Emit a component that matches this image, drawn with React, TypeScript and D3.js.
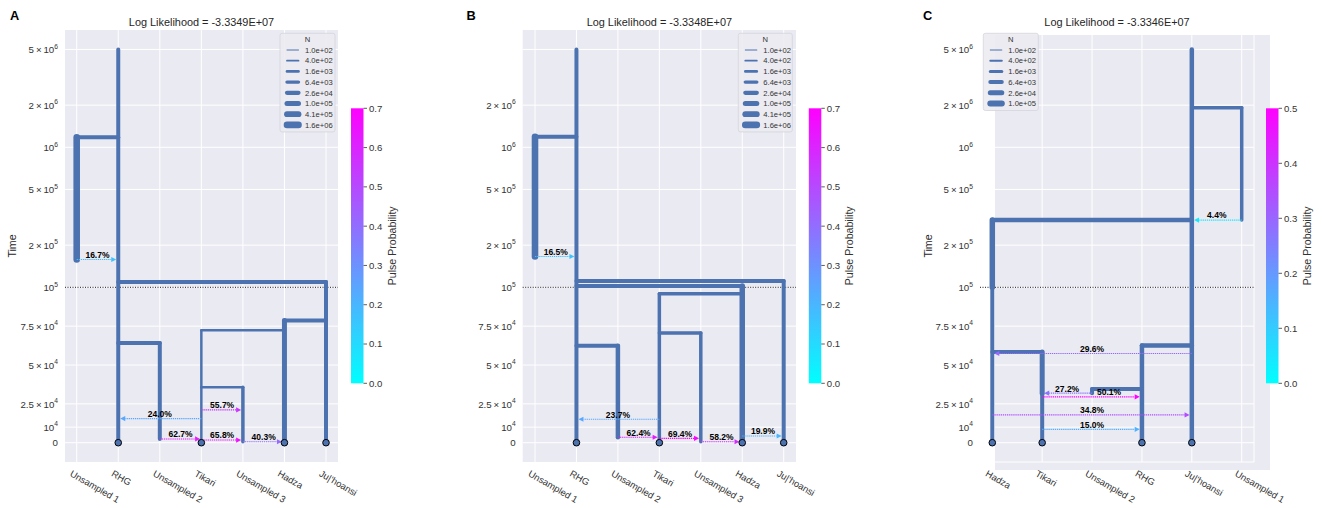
import React from "react";
import * as d3 from "d3";

type Epoch = { deme: string; start: number; end: number; N: number };
type Anc = { child: string; parent: string; time: number };
type Pulse = { source: string; dest: string; time: number; p: number };

// ---------- shared ----------
const yTickValues = [5e6, 2e6, 1e6, 5e5, 2e5, 1e5, 7.5e4, 5e4, 2.5e4, 1e4, 0];
const yTickLabels = ["5×10^6", "2×10^6", "10^6", "5×10^5", "2×10^5", "10^5", "7.5×10^4", "5×10^4", "2.5×10^4", "10^4", "0"];
const yTickLabelsB = ["", "2×10^6", "10^6", "5×10^5", "2×10^5", "10^5", "7.5×10^4", "5×10^4", "2.5×10^4", "10^4", "0"];
const legendLabels = ["1.0e+02", "4.0e+02", "1.6e+03", "6.4e+03", "2.6e+04", "1.0e+05", "4.1e+05", "1.6e+06"];
const legendValues = [100, 400, 1600, 6400, 25600, 102400, 409600, 1638400];

// ---------- panel A ----------
const titleA = "Log Likelihood = -3.3349E+07";
const demesA = ["Unsampled 1", "RHG", "Unsampled 2", "Tikari", "Unsampled 3", "Hadza", "Ju|'hoansi"];
const epochsA: Epoch[] = [
  { deme: "RHG", start: 5e6, end: 0, N: 1.8e4 },
  { deme: "Unsampled 1", start: 1.18e6, end: 1.58e5, N: 1.6e6 },
  { deme: "Ju|'hoansi", start: 1.09e5, end: 0, N: 1.8e4 },
  { deme: "Hadza", start: 7.87e4, end: 0, N: 1.0e5 },
  { deme: "Tikari", start: 7.23e4, end: 0, N: 1.35e3 },
  { deme: "Unsampled 2", start: 6.41e4, end: 2.4e3, N: 1.8e4 },
  { deme: "Unsampled 3", start: 3.57e4, end: 0.6e3, N: 7.6e3 },
];
const ancestorsA: Anc[] = [
  { child: "Unsampled 1", parent: "RHG", time: 1.18e6 },
  { child: "Ju|'hoansi", parent: "RHG", time: 1.09e5 },
  { child: "Hadza", parent: "Ju|'hoansi", time: 7.87e4 },
  { child: "Tikari", parent: "Hadza", time: 7.23e4 },
  { child: "Unsampled 2", parent: "RHG", time: 6.41e4 },
  { child: "Unsampled 3", parent: "Tikari", time: 3.57e4 },
];
const pulsesA: Pulse[] = [
  { source: "Unsampled 1", dest: "RHG", time: 1.58e5, p: 0.167 },
  { source: "Tikari", dest: "RHG", time: 1.55e4, p: 0.24 },
  { source: "Tikari", dest: "Unsampled 3", time: 2.11e4, p: 0.557 },
  { source: "Unsampled 2", dest: "Tikari", time: 2.4e3, p: 0.627 },
  { source: "Tikari", dest: "Unsampled 3", time: 1.7e3, p: 0.658 },
  { source: "Unsampled 3", dest: "Hadza", time: 0.6e3, p: 0.403 },
];
const sampledA = ["RHG", "Tikari", "Hadza", "Ju|'hoansi"];
const cbarTicksA = [0, 0.1, 0.2, 0.3, 0.4, 0.5, 0.6, 0.7];

// ---------- panel B ----------
const titleB = "Log Likelihood = -3.3348E+07";
const demesB = ["Unsampled 1", "RHG", "Unsampled 2", "Tikari", "Unsampled 3", "Hadza", "Ju|'hoansi"];
const epochsB: Epoch[] = [
  { deme: "RHG", start: 5e6, end: 0, N: 1.8e4 },
  { deme: "Unsampled 1", start: 1.19e6, end: 1.66e5, N: 1.6e6 },
  { deme: "Ju|'hoansi", start: 1.11e5, end: 0, N: 1.8e4 },
  { deme: "Hadza", start: 1.02e5, end: 0, N: 2.4e5 },
  { deme: "Tikari", start: 9.59e4, end: 0, N: 7.6e3 },
  { deme: "Unsampled 3", start: 7.06e4, end: 0.6e3, N: 7.6e3 },
  { deme: "Unsampled 2", start: 6.24e4, end: 3.5e3, N: 4.3e4 },
];
const ancestorsB: Anc[] = [
  { child: "Unsampled 1", parent: "RHG", time: 1.19e6 },
  { child: "Ju|'hoansi", parent: "RHG", time: 1.11e5 },
  { child: "Hadza", parent: "RHG", time: 1.02e5 },
  { child: "Tikari", parent: "Hadza", time: 9.59e4 },
  { child: "Unsampled 3", parent: "Tikari", time: 7.06e4 },
  { child: "Unsampled 2", parent: "RHG", time: 6.24e4 },
];
const pulsesB: Pulse[] = [
  { source: "Unsampled 1", dest: "RHG", time: 1.66e5, p: 0.165 },
  { source: "Tikari", dest: "RHG", time: 1.51e4, p: 0.237 },
  { source: "Unsampled 2", dest: "Tikari", time: 3.5e3, p: 0.624 },
  { source: "Tikari", dest: "Unsampled 3", time: 2.8e3, p: 0.694 },
  { source: "Unsampled 3", dest: "Hadza", time: 0.6e3, p: 0.582 },
  { source: "Hadza", dest: "Ju|'hoansi", time: 4.3e3, p: 0.199 },
];
const sampledB = ["RHG", "Tikari", "Hadza", "Ju|'hoansi"];
const cbarTicksB = [0, 0.1, 0.2, 0.3, 0.4, 0.5, 0.6, 0.7];

// ---------- panel C ----------
const titleC = "Log Likelihood = -3.3346E+07";
const demesC = ["Hadza", "Tikari", "Unsampled 2", "RHG", "Ju|'hoansi", "Unsampled 1"];
const epochsC: Epoch[] = [
  { deme: "Ju|'hoansi", start: 5e6, end: 0, N: 1.28e4 },
  { deme: "Unsampled 1", start: 1.92e6, end: 3.02e5, N: 3.2e3 },
  { deme: "Hadza", start: 3.02e5, end: 1e5, N: 5.1e4 },
  { deme: "Hadza", start: 1e5, end: 0, N: 6.4e3 },
  { deme: "Tikari", start: 5.83e4, end: 3.19e4, N: 2.56e4 },
  { deme: "Tikari", start: 3.19e4, end: 0, N: 6.4e3 },
  { deme: "RHG", start: 6.26e4, end: 0, N: 1.28e4 },
  { deme: "Unsampled 2", start: 3.46e4, end: 3.19e4, N: 6.4e3 },
];
const ancestorsC: Anc[] = [
  { child: "Unsampled 1", parent: "Ju|'hoansi", time: 1.92e6 },
  { child: "Hadza", parent: "Ju|'hoansi", time: 3.02e5 },
  { child: "Tikari", parent: "Hadza", time: 5.83e4 },
  { child: "RHG", parent: "Ju|'hoansi", time: 6.26e4 },
  { child: "Unsampled 2", parent: "RHG", time: 3.46e4 },
];
const pulsesC: Pulse[] = [
  { source: "Unsampled 1", dest: "Ju|'hoansi", time: 3.02e5, p: 0.044 },
  { source: "Ju|'hoansi", dest: "Hadza", time: 5.74e4, p: 0.296 },
  { source: "Unsampled 2", dest: "Tikari", time: 3.19e4, p: 0.272 },
  { source: "Tikari", dest: "RHG", time: 2.95e4, p: 0.501 },
  { source: "Hadza", dest: "Ju|'hoansi", time: 1.79e4, p: 0.348 },
  { source: "Tikari", dest: "RHG", time: 8.6e3, p: 0.15 },
];
const sampledC = ["Hadza", "Tikari", "RHG", "Ju|'hoansi"];
const cbarTicksC = [0, 0.1, 0.2, 0.3, 0.4, 0.5];

// ---------- styling ----------
const FONT = "'Liberation Sans', Arial, Helvetica, sans-serif";
const BLUE = "#4c72b0";
const BG = "#eaeaf2";
const TXT = "#333333";

// piecewise time scale: linear below 1e5, log above
const yLin = d3.scaleLinear().domain([0, 1e5]).range([442.7, 287.3]);
const yLog = d3.scaleLog().domain([1e5, 1e6]).range([287.3, 147.3]);
const yScale = (t: number) => (t <= 1e5 ? yLin(t) : yLog(t));

const cool = (t: number) => {
  const c = Math.max(0, Math.min(1, t));
  return d3.rgb(255 * c, 255 * (1 - c), 255).formatHex();
};

type Layout = {
  id: string;
  letter: string;
  letterX: number;
  bg: { x: number; y: number; w: number; h: number };
  axisLeft: number;
  gridLeft: number;
  gridRight: number;
  gridTop: number;
  gridBottom: number;
  frameLines: boolean;
  x0: number;
  x1: number;
  legendX: number;
  legendW: number;
  cbarX: number;
  timeLabelX: number | null;
  widthSlope: number;
  nudge: Record<number, number>;
};

type PanelData = {
  title: string;
  demes: string[];
  epochs: Epoch[];
  ancestors: Anc[];
  pulses: Pulse[];
  sampled: string[];
  tickLabels: string[];
  cbarTicks: number[];
  legendCount: number;
};

function TickLabel({ x, y, s }: { x: number; y: number; s: string }) {
  if (!s) return null;
  const parts = s.split("^");
  const base = parts[0].replace("×", "\u2009×\u2009");
  return (
    <text x={x} y={y} textAnchor="end" fontSize={9.7} fill={TXT} fontFamily={FONT}>
      {base}
      {parts[1] !== undefined && (
        <tspan fontSize={6.7} dy={-4.5}>
          {parts[1]}
        </tspan>
      )}
    </text>
  );
}

function Panel({ L, D }: { L: Layout; D: PanelData }) {
  const x = d3.scaleLinear().domain([0, D.demes.length - 1]).range([L.x0, L.x1]);
  const xd = (name: string) => x(D.demes.indexOf(name));
  const width = (N: number) => 1 + (Math.log(N / 25) / Math.log(4) - 1) * L.widthSlope;
  const widthAt = (deme: string, t: number) => {
    const eps = D.epochs.filter((e) => e.deme === deme);
    let best = eps[0];
    for (const e of eps) if (t <= e.start + 1 && t >= e.end - 1) best = e;
    return width(best.N);
  };
  const vmax = D.cbarTicks[D.cbarTicks.length - 1];
  const cbTop = 108.3;
  const cbH = 275;
  const cbW = 12.5;
  const gradId = "grad" + L.id;
  const cx = (L.axisLeft + L.gridRight) / 2;

  return (
    <g>
      <rect x={L.bg.x} y={L.bg.y} width={L.bg.w} height={L.bg.h} fill={BG} />
      {yTickValues.map((v, i) => (
        <line key={"hg" + i} x1={L.gridLeft} x2={L.gridRight} y1={yScale(v)} y2={yScale(v)} stroke="#fff" strokeWidth={1} />
      ))}
      {D.demes.map((d, i) => (
        <line key={"vg" + i} x1={x(i)} x2={x(i)} y1={L.gridTop} y2={L.gridBottom} stroke="#fff" strokeWidth={1} />
      ))}
      {L.frameLines && (
        <g>
          <line x1={L.gridRight} x2={L.gridRight} y1={L.gridTop} y2={L.gridBottom} stroke="#fff" strokeWidth={1} />
          <line x1={L.gridLeft} x2={L.gridRight} y1={L.gridBottom} y2={L.gridBottom} stroke="#fff" strokeWidth={1} />
        </g>
      )}
      <line x1={L.axisLeft} x2={L.gridRight} y1={yScale(1e5)} y2={yScale(1e5)} stroke="#000" strokeWidth={0.9} strokeDasharray="1 1.5" />
      {yTickValues.map((v, i) => (
        <TickLabel key={"yt" + i} x={L.axisLeft - 7} y={yScale(v) + 3.7} s={D.tickLabels[i]} />
      ))}
      {D.demes.map((d, i) => (
        <text
          key={"xt" + i}
          transform={`translate(${x(i) - 7.5},${475.5}) rotate(30)`}
          fontSize={9.4}
          fill={TXT}
          fontFamily={FONT}
        >
          {d}
        </text>
      ))}
      {D.ancestors.map((a, i) => (
        <line
          key={"an" + i}
          x1={xd(a.child)}
          x2={xd(a.parent)}
          y1={yScale(a.time)}
          y2={yScale(a.time)}
          stroke={BLUE}
          strokeWidth={Math.min(widthAt(a.child, a.time), widthAt(a.parent, a.time))}
          strokeLinecap="round"
        />
      ))}
      {D.epochs.map((e, i) => (
        <line
          key={"ep" + i}
          x1={xd(e.deme)}
          x2={xd(e.deme)}
          y1={yScale(e.start)}
          y2={yScale(e.end)}
          stroke={BLUE}
          strokeWidth={width(e.N)}
          strokeLinecap="round"
        />
      ))}
      {D.pulses.map((p, i) => {
        const xs = xd(p.source);
        const xdst = xd(p.dest);
        const dir = Math.sign(xdst - xs);
        const tip = xdst - dir * (widthAt(p.dest, p.time) / 2);
        const hl = 5;
        const hw = 2.6;
        const yy = yScale(p.time);
        const col = cool(p.p / vmax);
        const lx = (xs + xdst) / 2 + (L.nudge[i] || 0);
        return (
          <g key={"pu" + i}>
            <line x1={xs} x2={tip - dir * hl} y1={yy} y2={yy} stroke={col} strokeWidth={1.1} strokeDasharray="1.3 0.8" />
            <path d={`M${tip},${yy}L${tip - dir * hl},${yy - hw}L${tip - dir * hl},${yy + hw}Z`} fill={col} />
            <text x={lx} y={yy - 1.6} textAnchor="middle" fontSize={8.5} fontWeight="bold" fill="#000" fontFamily={FONT}>
              {(p.p * 100).toFixed(1) + "%"}
            </text>
          </g>
        );
      })}
      {D.sampled.map((s, i) => (
        <circle key={"sm" + i} cx={xd(s)} cy={yScale(0)} r={3.3} fill={BLUE} stroke="#000" strokeWidth={1} />
      ))}
      <g>
        <rect
          x={L.legendX}
          y={33.3}
          width={L.legendW}
          height={16.7 + (D.legendCount - 1) * 10.7 + 7}
          fill="#ebebf1"
          fillOpacity={0.9}
          stroke="#d4d4dc"
          strokeWidth={0.8}
          rx={2}
        />
        <text x={L.legendX + L.legendW / 2} y={42} textAnchor="middle" fontSize={7.6} fill={TXT} fontFamily={FONT}>
          N
        </text>
        {legendValues.slice(0, D.legendCount).map((v, i) => {
          const ly = 50 + i * 10.7;
          return (
            <g key={"lg" + i}>
              <line x1={L.legendX + 7} x2={L.legendX + 18.5} y1={ly} y2={ly} stroke={BLUE} strokeWidth={width(v)} strokeLinecap="round" />
              <text x={L.legendX + 25} y={ly + 2.7} fontSize={7.6} fill={TXT} fontFamily={FONT}>
                {legendLabels[i]}
              </text>
            </g>
          );
        })}
      </g>
      <defs>
        <linearGradient id={gradId} x1="0" y1="1" x2="0" y2="0">
          <stop offset="0" stopColor="#00ffff" />
          <stop offset="1" stopColor="#ff00ff" />
        </linearGradient>
      </defs>
      <rect x={L.cbarX} y={cbTop} width={cbW} height={cbH} fill={`url(#${gradId})`} />
      {D.cbarTicks.map((v, i) => {
        const ty = cbTop + cbH * (1 - v / vmax);
        return (
          <g key={"cb" + i}>
            <line x1={L.cbarX + cbW} x2={L.cbarX + cbW + 3.5} y1={ty} y2={ty} stroke={TXT} strokeWidth={0.8} />
            <text x={L.cbarX + cbW + 5.5} y={ty + 3.4} fontSize={9.6} fill={TXT} fontFamily={FONT}>
              {v.toFixed(1)}
            </text>
          </g>
        );
      })}
      <text
        transform={`translate(${L.cbarX + cbW + 32},${cbTop + cbH / 2}) rotate(-90)`}
        textAnchor="middle"
        fontSize={10.6}
        fill={TXT}
        fontFamily={FONT}
      >
        Pulse Probability
      </text>
      <text x={cx} y={25.5} textAnchor="middle" fontSize={10.9} fill="#262626" fontFamily={FONT}>
        {D.title}
      </text>
      {L.timeLabelX !== null && (
        <text
          transform={`translate(${L.timeLabelX},${246}) rotate(-90)`}
          textAnchor="middle"
          fontSize={10.6}
          fill="#262626"
          fontFamily={FONT}
        >
          Time
        </text>
      )}
      <text x={L.letterX} y={19.8} fontSize={12.8} fontWeight="bold" fill="#000" fontFamily={FONT}>
        {L.letter}
      </text>
    </g>
  );
}

const layoutA: Layout = {
  id: "A",
  letter: "A",
  letterX: 10,
  bg: { x: 65, y: 30, w: 273, h: 432 },
  axisLeft: 65,
  gridLeft: 65,
  gridRight: 338,
  gridTop: 30,
  gridBottom: 462,
  frameLines: false,
  x0: 76.7,
  x1: 326,
  legendX: 280,
  legendW: 55,
  cbarX: 351,
  timeLabelX: 15.5,
  widthSlope: 0.8,
  nudge: {},
};
const layoutB: Layout = {
  id: "B",
  letter: "B",
  letterX: 466.5,
  bg: { x: 522.7, y: 30, w: 273.3, h: 432 },
  axisLeft: 522.7,
  gridLeft: 522.7,
  gridRight: 796,
  gridTop: 30,
  gridBottom: 462,
  frameLines: false,
  x0: 535,
  x1: 783.7,
  legendX: 738.3,
  legendW: 54,
  cbarX: 808.8,
  timeLabelX: null,
  widthSlope: 0.8,
  nudge: {},
};
const layoutC: Layout = {
  id: "C",
  letter: "C",
  letterX: 923,
  bg: { x: 995, y: 35, w: 275, h: 435 },
  axisLeft: 980,
  gridLeft: 995,
  gridRight: 1254,
  gridTop: 35,
  gridBottom: 462,
  frameLines: true,
  x0: 992.3,
  x1: 1241.7,
  legendX: 983.3,
  legendW: 55,
  cbarX: 1266,
  timeLabelX: 931.5,
  widthSlope: 1.0,
  nudge: { 3: 17 },
};

const dataA: PanelData = {
  title: titleA,
  demes: demesA,
  epochs: epochsA,
  ancestors: ancestorsA,
  pulses: pulsesA,
  sampled: sampledA,
  tickLabels: yTickLabels,
  cbarTicks: cbarTicksA,
  legendCount: 8,
};
const dataB: PanelData = {
  title: titleB,
  demes: demesB,
  epochs: epochsB,
  ancestors: ancestorsB,
  pulses: pulsesB,
  sampled: sampledB,
  tickLabels: yTickLabelsB,
  cbarTicks: cbarTicksB,
  legendCount: 8,
};
const dataC: PanelData = {
  title: titleC,
  demes: demesC,
  epochs: epochsC,
  ancestors: ancestorsC,
  pulses: pulsesC,
  sampled: sampledC,
  tickLabels: yTickLabels,
  cbarTicks: cbarTicksC,
  legendCount: 6,
};

export default function App() {
  return (
    <svg
      width={1322}
      height={508}
      viewBox="0 0 1322 508"
      style={{ position: "absolute", left: 0, top: 0, background: "#fff" }}
    >
      <rect x={0} y={0} width={1322} height={508} fill="#fff" />
      <Panel L={layoutA} D={dataA} />
      <Panel L={layoutB} D={dataB} />
      <Panel L={layoutC} D={dataC} />
    </svg>
  );
}
